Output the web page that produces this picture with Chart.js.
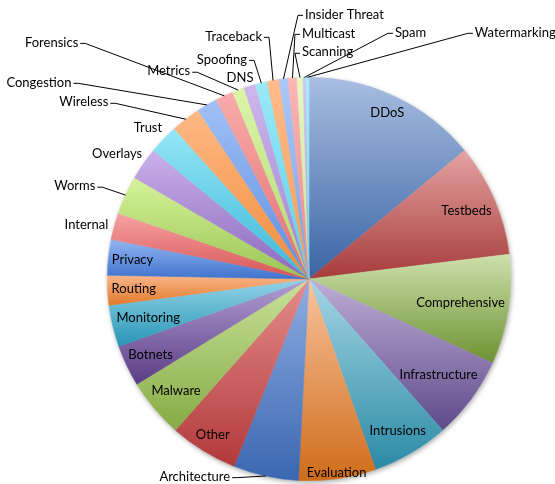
<!DOCTYPE html>
<html>
<head>
<meta charset="utf-8">
<script src="https://cdn.jsdelivr.net/npm/chart.js@4.4.0/dist/chart.umd.min.js"></script>
<style>
html,body{margin:0;padding:0;background:#fff}
</style>
</head>
<body>
<canvas id="chart" width="555" height="484"></canvas>
<script>

// topics, clockwise from 12 o'clock
const categories = ["DDoS","Testbeds","Comprehensive","Infrastructure","Intrusions","Evaluation",
"Architecture","Other","Malware","Botnets","Monitoring","Routing",
"Privacy","Internal","Worms","Overlays","Trust","Wireless",
"Congestion","Forensics","Metrics","DNS","Spoofing","Traceback",
"Insider Threat","Multicast","Scanning","Spam","Watermarking"]

const counts = [59,38,37,28,26,26,
22,23,20,14,14,10,
12,9,13,11,10,10,
7,6,4,4,4,4,
3,3,2,1,1]

// gradient colours, light at top of a slice, dark at its bottom
const shadeTop = ["#a9bee1","#e4a3a2","#cde0ac","#bdadd6","#a6d6e5","#f9c49f",
"#8fade2","#e58d8c","#c9e19a","#b39fd5","#93d3e8","#f9b58a",
"#93b6f2","#f7a3a3","#d6f39a","#c9b0ea","#94e6f7","#ffb985",
"#a1c0f5","#f9abab","#dcf5a9","#cdb8ec","#9be9f8","#ffbc8c",
"#adc8f7","#fbb6b6","#e5f8c1","#d3c3ef","#a6ecf9"]

const shadeBottom = ["#3a64a4","#a63b3a","#6f9232","#5f4a8b","#2b8aa5","#cf6c1a",
"#3a67b0","#b2393a","#86ab45","#5a3c84","#2896b5","#e27a2a",
"#3f73cc","#d65454","#99c452","#8b68be","#3cb7d8","#f08b3c",
"#5d8ee0","#e07070","#b0d870","#a080d0","#5ccfe8","#f59a55",
"#70a0ea","#ea8888","#c5e595","#b098dc","#70d8ee"]

// where each label sits: inside = fraction of radius on the slice middle,
// at = text anchor relative to the centre in radius units
const labelPlacement = {
"DDoS":{inside:0.91},
"Testbeds":{inside:0.85},
"Comprehensive":{inside:0.76},
"Infrastructure":{inside:0.8},
"Intrusions":{inside:0.87},
"Evaluation":{inside:0.97},
"Architecture":{at:[-0.391,0.98],align:"right",line:true},
"Other":{inside:0.91},
"Malware":{inside:0.86},
"Botnets":{inside:0.87},
"Monitoring":{inside:0.82},
"Routing":{inside:0.87},
"Privacy":{inside:0.88},
"Internal":{at:[-0.995,-0.267],align:"right"},
"Worms":{at:[-1.059,-0.46],align:"right",line:true},
"Overlays":{at:[-0.827,-0.619],align:"right"},
"Trust":{at:[-0.728,-0.748],align:"right"},
"Wireless":{at:[-0.995,-0.876],align:"right",line:true},
"Congestion":{at:[-1.178,-0.975],align:"right",line:true},
"Forensics":{at:[-1.144,-1.173],align:"right",line:true},
"Metrics":{at:[-0.589,-1.03],align:"right",line:true},
"DNS":{at:[-0.342,-0.995],align:"center"},
"Spoofing":{at:[-0.307,-1.089],align:"right",line:true},
"Traceback":{at:[-0.233,-1.203],align:"right",line:true},
"Insider Threat":{at:[-0.02,-1.312],align:"left",line:true},
"Multicast":{at:[-0.035,-1.218],align:"left",line:true},
"Scanning":{at:[-0.035,-1.124],align:"left",line:true},
"Spam":{at:[0.426,-1.223],align:"left",line:true},
"Watermarking":{at:[0.822,-1.223],align:"left",line:true}
}

const sliceShading = {
id:"sliceShading",
beforeDatasetsDraw(chart){
const ctx = chart.ctx
const arcs = chart.getDatasetMeta(0).data
const a0 = arcs[0]

// soft shadow under the pie
ctx.save()
ctx.shadowColor = "rgba(0,0,0,0.35)"
ctx.shadowBlur = 5
ctx.shadowOffsetX = 1
ctx.shadowOffsetY = 2
ctx.beginPath()
ctx.arc(a0.x,a0.y,a0.outerRadius,0,Math.PI*2)
ctx.fillStyle = "#fff"
ctx.fill()
ctx.restore()

arcs.forEach((arc,i)=>{
let minY = arc.y, maxY = arc.y
for(let k=0;k<=60;k++){
const a = arc.startAngle+(arc.endAngle-arc.startAngle)*k/60
const y = arc.y+arc.outerRadius*Math.sin(a)
minY = Math.min(minY,y)
maxY = Math.max(maxY,y)
}
if(maxY-minY<1) maxY = minY+1
const g = ctx.createLinearGradient(0,minY,0,maxY)
g.addColorStop(0,shadeTop[i])
g.addColorStop(1,shadeBottom[i])
arc.options.backgroundColor = g
arc.options.borderColor = g
})
}
}

const sliceLabels = {
id:"sliceLabels",
afterDatasetsDraw(chart){
const ctx = chart.ctx
const arcs = chart.getDatasetMeta(0).data
ctx.save()
ctx.font = "13px Lato"
ctx.fillStyle = "#000"
ctx.strokeStyle = "#000"
ctx.lineWidth = 1
ctx.textBaseline = "middle"

arcs.forEach((arc,i)=>{
const name = categories[i]
const p = labelPlacement[name]
const R = arc.outerRadius
const mid = (arc.startAngle+arc.endAngle)/2

if(p.inside){
ctx.textAlign = "center"
ctx.fillText(name,arc.x+Math.cos(mid)*R*p.inside,arc.y+Math.sin(mid)*R*p.inside)
return
}

const tx = arc.x+p.at[0]*R
const ty = arc.y+p.at[1]*R
ctx.textAlign = p.align
ctx.fillText(name,tx,ty)

if(p.line){
const dir = p.align==="right" ? 1 : -1
const sx = tx+dir*2
const ex = arc.x+Math.cos(mid)*R
const ey = arc.y+Math.sin(mid)*R
ctx.beginPath()
ctx.moveTo(sx,ty+1)
ctx.lineTo(sx+dir*5,ty+1)
ctx.lineTo(ex,ey)
ctx.stroke()
}
})
ctx.restore()
}
}

new Chart(document.getElementById("chart"),{
type:"pie",
data:{
labels:categories,
datasets:[{
data:counts,
backgroundColor:shadeBottom.slice(),
borderColor:shadeBottom.slice(),
borderWidth:0.6,
hoverOffset:0,
offset:0
}]
},
options:{
responsive:false,
devicePixelRatio:1,
animation:false,
events:[],
layout:{padding:{left:107,right:44,top:77,bottom:3}},
plugins:{
legend:{display:false},
tooltip:{enabled:false},
title:{display:false}
}
},
plugins:[sliceShading,sliceLabels]
})

</script>
</body>
</html>
